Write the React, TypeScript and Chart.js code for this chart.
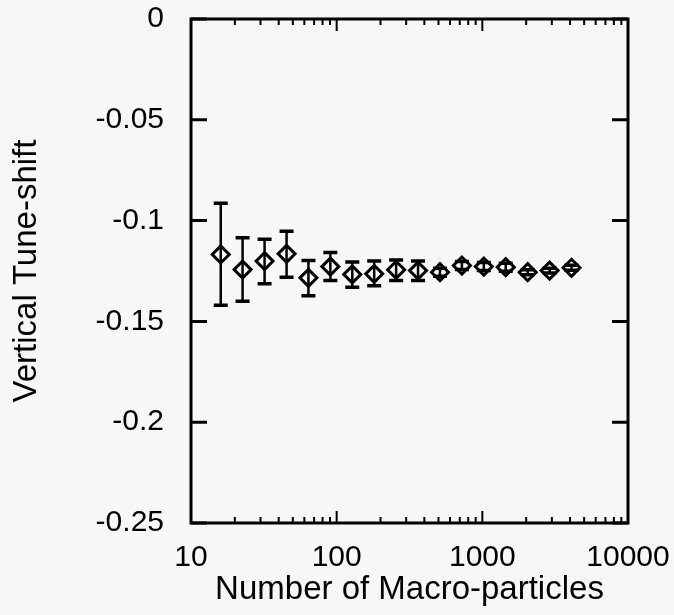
import React, { useEffect, useRef } from 'react';
import { Chart, registerables } from 'chart.js';

Chart.register(...registerables);

const N_PARTICLES = [16, 22.6, 32, 45.3, 64, 90.5, 128, 181, 256, 362, 512, 724, 1024, 1448, 2048, 2896, 4096];
const TUNE_SHIFT = [-0.1168, -0.1243, -0.1201, -0.1165, -0.1284, -0.1228, -0.1267, -0.1264, -0.1244, -0.1248, -0.1256, -0.1223, -0.1228, -0.1231, -0.1256, -0.1248, -0.1234];
const ERR_UPPER = [-0.0914, -0.1085, -0.1093, -0.1053, -0.1198, -0.1158, -0.1205, -0.1201, -0.1195, -0.12, -0.1236, -0.1203, -0.1208, -0.1211, -0.1244, -0.1236, -0.1222];
const ERR_LOWER = [-0.142, -0.140, -0.1313, -0.1281, -0.1373, -0.1297, -0.133, -0.1323, -0.1297, -0.1297, -0.1276, -0.1243, -0.1248, -0.1251, -0.1268, -0.126, -0.1246];

const X_TICKS = [10, 100, 1000, 10000];
const X_TICK_LABELS = ['10', '100', '1000', '10000'];
const Y_TICKS = [0, -0.05, -0.1, -0.15, -0.2, -0.25];
const Y_TICK_LABELS = ['0', '-0.05', '-0.1', '-0.15', '-0.2', '-0.25'];

const FONT = "'Liberation Sans', Arial, Helvetica, sans-serif";

const errorBarPlugin = {
  id: 'errorBars',
  afterDatasetsDraw(chart: any) {
    const { ctx, scales } = chart;
    const xs = scales.x;
    const ys = scales.y;
    ctx.save();
    ctx.strokeStyle = '#000';
    N_PARTICLES.forEach((n, i) => {
      const px = xs.getPixelForValue(n);
      const top = ys.getPixelForValue(ERR_UPPER[i]);
      const bot = ys.getPixelForValue(ERR_LOWER[i]);
      ctx.lineWidth = 2.5;
      ctx.beginPath();
      ctx.moveTo(px, top);
      ctx.lineTo(px, bot);
      ctx.stroke();
      ctx.lineWidth = 3.5;
      ctx.beginPath();
      ctx.moveTo(px - 7, top);
      ctx.lineTo(px + 7, top);
      ctx.moveTo(px - 7, bot);
      ctx.lineTo(px + 7, bot);
      ctx.stroke();
    });
    ctx.restore();
  },
};

const framePlugin = {
  id: 'frame',
  afterDraw(chart: any) {
    const { ctx, chartArea, scales } = chart;
    const { left, right, top, bottom } = chartArea;
    const xs = scales.x;
    const ys = scales.y;
    ctx.save();
    ctx.strokeStyle = '#000';
    ctx.lineWidth = 3;
    ctx.strokeRect(left, top, right - left, bottom - top);
    ctx.beginPath();
    Y_TICKS.forEach((v) => {
      const py = ys.getPixelForValue(v);
      ctx.moveTo(left, py);
      ctx.lineTo(left + 16, py);
      ctx.moveTo(right, py);
      ctx.lineTo(right - 16, py);
    });
    ctx.stroke();
    ctx.lineWidth = 2;
    ctx.beginPath();
    for (let d = 10; d < 10000; d *= 10) {
      for (let k = 1; k < 10; k++) {
        const v = d * k;
        if (v <= 10) continue;
        const px = xs.getPixelForValue(v);
        const len = k === 1 ? 12 : 6;
        ctx.moveTo(px, bottom);
        ctx.lineTo(px, bottom - len);
        ctx.moveTo(px, top);
        ctx.lineTo(px, top + len);
      }
    }
    ctx.stroke();
    ctx.restore();
  },
};

export default function App() {
  const ref = useRef<HTMLCanvasElement | null>(null);

  useEffect(() => {
    if (!ref.current) return;
    const chart = new Chart(ref.current, {
      type: 'scatter',
      data: {
        datasets: [
          {
            label: 'Vertical Tune-shift',
            data: N_PARTICLES.map((n, i) => ({ x: n, y: TUNE_SHIFT[i] })),
            pointStyle: 'rectRot',
            pointRadius: 8.5,
            pointHoverRadius: 8.5,
            pointBorderWidth: 3,
            pointBorderColor: '#000',
            pointBackgroundColor: '#f7f7f7',
            showLine: false,
          },
        ],
      },
      options: {
        animation: false,
        responsive: true,
        maintainAspectRatio: false,
        events: [],
        layout: { padding: { left: 0, right: 46, top: 19, bottom: 0 } },
        plugins: {
          legend: { display: false },
          tooltip: { enabled: false },
        },
        scales: {
          x: {
            type: 'logarithmic',
            min: 10,
            max: 10000,
            grid: { display: false },
            border: { display: false },
            afterBuildTicks: (scale: any) => {
              scale.ticks = X_TICKS.map((v) => ({ value: v }));
            },
            afterFit: (scale: any) => {
              scale.height = 92;
              scale.paddingLeft = 0;
              scale.paddingRight = 0;
            },
            ticks: {
              autoSkip: false,
              maxRotation: 0,
              minRotation: 0,
              padding: 9,
              color: '#000',
              font: { family: FONT, size: 30 },
              callback: (value: any) => {
                const idx = X_TICKS.indexOf(Number(value));
                return idx >= 0 ? X_TICK_LABELS[idx] : '';
              },
            },
            title: {
              display: true,
              text: 'Number of Macro-particles',
              color: '#000',
              font: { family: FONT, size: 33 },
              padding: { top: 0, bottom: 5 },
            },
          },
          y: {
            type: 'linear',
            min: -0.25,
            max: 0,
            grid: { display: false },
            border: { display: false },
            afterBuildTicks: (scale: any) => {
              scale.ticks = Y_TICKS.map((v) => ({ value: v }));
            },
            afterFit: (scale: any) => {
              scale.width = 191;
              scale.paddingTop = 0;
              scale.paddingBottom = 0;
            },
            ticks: {
              padding: 19,
              color: '#000',
              font: { family: FONT, size: 30 },
              callback: (value: any) => {
                const idx = Y_TICKS.findIndex((t) => Math.abs(t - Number(value)) < 1e-9);
                return idx >= 0 ? Y_TICK_LABELS[idx] : '';
              },
            },
            title: {
              display: true,
              text: 'Vertical Tune-shift',
              color: '#000',
              font: { family: FONT, size: 33 },
              padding: { top: 7, bottom: 0 },
            },
          },
        },
      },
      plugins: [errorBarPlugin, framePlugin],
    });
    return () => chart.destroy();
  }, []);

  return (
    <div
      style={{
        position: 'fixed',
        left: 0,
        top: 0,
        width: 674,
        height: 615,
        background: '#f7f7f7',
      }}
    >
      <canvas ref={ref} />
    </div>
  );
}
